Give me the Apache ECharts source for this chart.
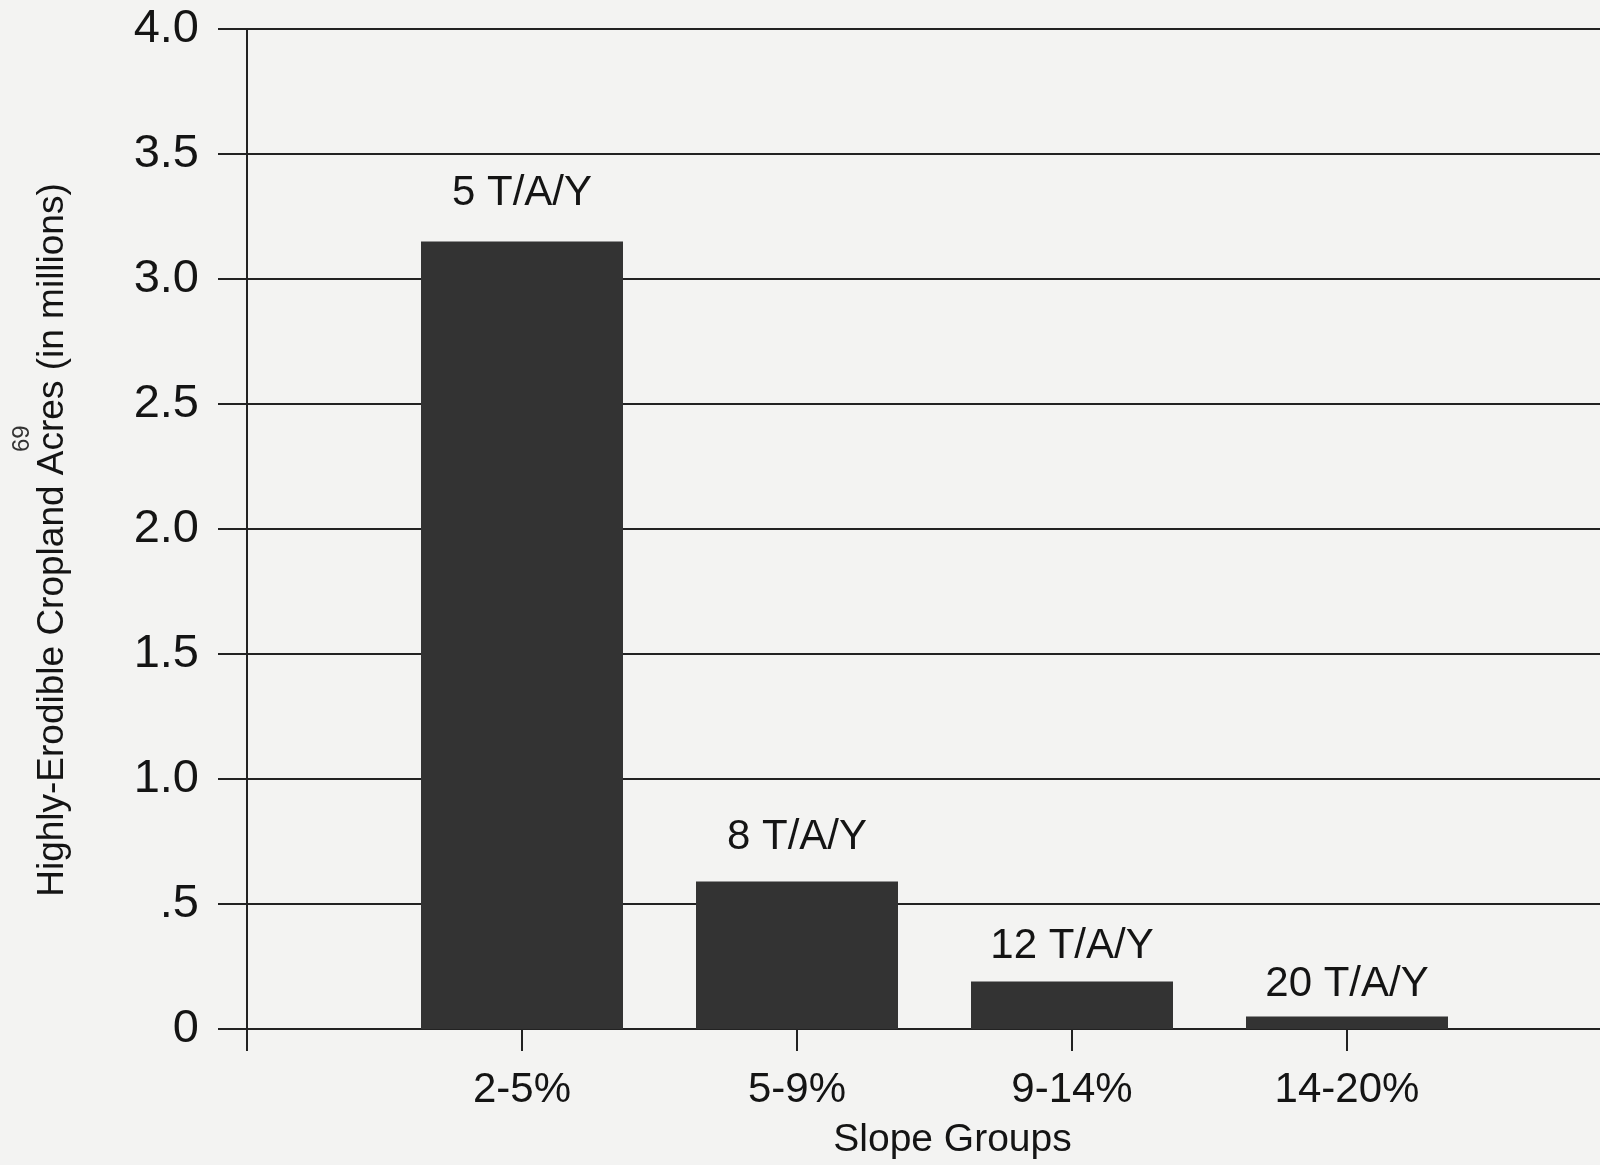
<!DOCTYPE html>
<html>
<head>
<meta charset="utf-8">
<script src="https://cdn.jsdelivr.net/npm/echarts@6/dist/echarts.min.js"></script>
<style>
html,body{margin:0;padding:0;background:#f3f3f2;overflow:hidden;}
#c{width:1625px;height:1165px;}
</style>
</head>
<body>
<div id="c"></div>
<script>
// Data
const categories = ['', '2-5%', '5-9%', '9-14%', '14-20%', ''];
const acres = [null, 3.15, 0.59, 0.19, 0.05, null];
const erosionLabels = ['', '5 T/A/Y', '8 T/A/Y', '12 T/A/Y', '20 T/A/Y', ''];
const yTickLabels = {'0': '0', '0.5': '.5', '1': '1.0', '1.5': '1.5', '2': '2.0', '2.5': '2.5', '3': '3.0', '3.5': '3.5', '4': '4.0'};

// Styling (not data)
const FONT = '"Liberation Sans", Arial, Helvetica, sans-serif';
const S = {tick: 47, bar: 42, cat: 42, catMargin: 40, xName: 39, xGap: 92, yName: 37, yGap: 176, dist: [0, 27, 23, 14, 11, 0]};
const INK = '#222222';
const TXT = '#141414';

const chart = echarts.init(document.getElementById('c'), null, {renderer: 'canvas'});
chart.setOption({
  backgroundColor: '#f3f3f2',
  animation: false,
  grid: {left: 247, right: 3, top: 29, bottom: 134, containLabel: false},
  xAxis: {
    type: 'category',
    data: categories,
    boundaryGap: false,
    name: 'Slope Groups',
    nameLocation: 'middle',
    nameGap: S.xGap,
    nameTextStyle: {fontFamily: FONT, fontSize: S.xName, color: TXT, padding: [0, 0, 0, 36]},
    axisLine: {lineStyle: {color: INK, width: 2}},
    axisTick: {length: 22, lineStyle: {color: INK, width: 2}},
    axisLabel: {fontFamily: FONT, fontSize: S.cat, color: TXT, margin: S.catMargin, interval: 0},
    splitLine: {show: false}
  },
  yAxis: {
    type: 'value',
    min: 0, max: 4, interval: 0.5,
    name: 'Highly-Erodible Cropland Acres (in millions)',
    nameLocation: 'middle',
    nameGap: S.yGap,
    nameRotate: 90,
    nameTextStyle: {fontFamily: FONT, fontSize: S.yName, color: TXT, padding: [0, 22, 0, 0]},
    axisLine: {show: true, lineStyle: {color: INK, width: 2}},
    axisTick: {show: true, length: 29, lineStyle: {color: INK, width: 2}},
    axisLabel: {
      fontFamily: FONT, fontSize: S.tick, color: TXT, margin: 48,
      formatter: v => yTickLabels[String(v)] ?? String(v)
    },
    splitLine: {show: true, lineStyle: {color: INK, width: 2}}
  },
  series: [{
    type: 'bar',
    barWidth: 202,
    itemStyle: {color: '#333333'},
    data: acres.map((v, i) => ({
      value: v,
      label: {
        show: v !== null,
        position: 'top',
        distance: S.dist[i],
        formatter: () => erosionLabels[i],
        fontFamily: FONT, fontSize: S.bar, color: TXT
      }
    }))
  }],
  graphic: [{
    type: 'text',
    x: 10, y: 452,
    rotation: Math.PI / 2,
    style: {text: '69', fontFamily: FONT, fontSize: 24, fill: '#333'}
  }]
});
</script>
</body>
</html>
